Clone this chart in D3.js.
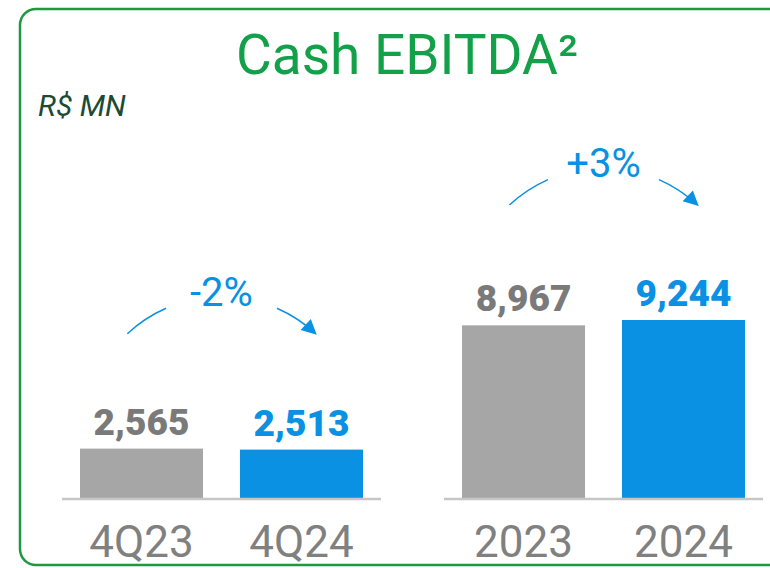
<!DOCTYPE html>
<html>
<head>
<meta charset="utf-8">
<script src="https://cdn.jsdelivr.net/npm/d3@7"></script>
<style>
  body { margin: 0; background: #fff; }
  svg { display: block; font-family: Roboto, "Noto Sans", sans-serif; }
</style>
</head>
<body>
<div id="chart-container"></div>
<script>
// data
const groups = ["quarter", "year"]
const categories = [["4Q23", "4Q24"], ["2023", "2024"]]
const values = [[2565, 2513], [8967, 9244]]
const valueLabels = [["2,565", "2,513"], ["8,967", "9,244"]]
const changeLabels = ["-2%", "+3%"]

const width = 770, height = 568
const grey = "#a6a6a6", blue = "#0a91e3", green = "#12a049"

const svg = d3.select("#chart-container")
  .append("svg")
    .attr("width", width)
    .attr("height", height)

// green rounded frame, runs off the right edge
svg.append("rect")
  .attr("x", 20).attr("y", 9)
  .attr("width", 800).attr("height", 556)
  .attr("rx", 16)
  .attr("fill", "none")
  .attr("stroke", "#1b9a3e")
  .attr("stroke-width", 2.5)

svg.append("text")
  .attr("x", 407).attr("y", 74)
  .attr("text-anchor", "middle")
  .attr("fill", green)
  .attr("font-size", 55)
  .text("Cash EBITDA²")

svg.append("text")
  .attr("x", 38).attr("y", 116)
  .attr("fill", "#1d4a34")
  .attr("font-size", 30)
  .attr("font-style", "italic")
  .text("R$ MN")

const baseY = 498
const y = d3.scaleLinear()
  .domain([0, 9244])
  .range([baseY, 320])

const x0 = d3.scaleBand()
  .domain(groups)
  .range([62, 763])
  .paddingInner(0.165)

const x1 = d3.scaleBand()
  .domain([0, 1])
  .range([0, x0.bandwidth()])
  .paddingInner(0.231)
  .paddingOuter(0.1125)

svg.append("defs").append("marker")
  .attr("id", "head")
  .attr("viewBox", "0 0 10 10")
  .attr("refX", 9).attr("refY", 5)
  .attr("markerWidth", 17).attr("markerHeight", 15)
  .attr("markerUnits", "userSpaceOnUse")
  .attr("orient", "auto")
  .append("path")
    .attr("d", "M0,0 L10,5 L0,10 Z")
    .attr("fill", blue)

const colors = [grey, blue]
const labelColors = ["#7a7a7a", blue]

groups.forEach((g, gi) => {
  const gx = x0(g)
  const grp = svg.append("g").attr("transform", `translate(${gx},0)`)

  grp.selectAll("rect.bar")
    .data(values[gi])
    .join("rect")
      .attr("class", "bar")
      .attr("x", (d, i) => x1(i))
      .attr("y", d => y(d))
      .attr("width", x1.bandwidth())
      .attr("height", d => baseY - y(d))
      .attr("fill", (d, i) => colors[i])

  grp.append("line")
    .attr("x1", 0).attr("x2", x0.bandwidth())
    .attr("y1", baseY + 1).attr("y2", baseY + 1)
    .attr("stroke", "#c6c6c6")
    .attr("stroke-width", 2.5)

  grp.selectAll("text.val")
    .data(values[gi])
    .join("text")
      .attr("class", "val")
      .attr("x", (d, i) => x1(i) + x1.bandwidth() / 2)
      .attr("y", d => y(d) - 14)
      .attr("text-anchor", "middle")
      .attr("font-size", 37)
      .attr("font-weight", 900)
      .attr("fill", (d, i) => labelColors[i])
      .text((d, i) => valueLabels[gi][i])

  grp.selectAll("text.cat")
    .data(categories[gi])
    .join("text")
      .attr("class", "cat")
      .attr("x", (d, i) => x1(i) + x1.bandwidth() / 2)
      .attr("y", 557)
      .attr("text-anchor", "middle")
      .attr("font-size", 44)
      .attr("fill", "#808080")
      .text(d => d)

  // change arc above the pair
  const top = y(d3.max(values[gi]))
  const cx = x0.bandwidth() / 2
  const cy = top - 14
  const r = 138
  const pt = a => [cx + r * Math.sin(a), cy - r * Math.cos(a)]
  const rad = d => d * Math.PI / 180
  const a1 = pt(rad(-43)), a2 = pt(rad(-23.7))
  const b1 = pt(rad(23.7)), b2 = pt(rad(43))

  grp.append("path")
    .attr("d", `M${a1} A${r},${r} 0 0 1 ${a2}`)
    .attr("fill", "none").attr("stroke", blue).attr("stroke-width", 1.5)
  grp.append("path")
    .attr("d", `M${b1} A${r},${r} 0 0 1 ${b2}`)
    .attr("fill", "none").attr("stroke", blue).attr("stroke-width", 1.5)
    .attr("marker-end", "url(#head)")

  grp.append("text")
    .attr("x", cx).attr("y", cy - r + 9)
    .attr("text-anchor", "middle")
    .attr("font-size", 40)
    .attr("fill", blue)
    .text(changeLabels[gi])
})
</script>
</body>
</html>
